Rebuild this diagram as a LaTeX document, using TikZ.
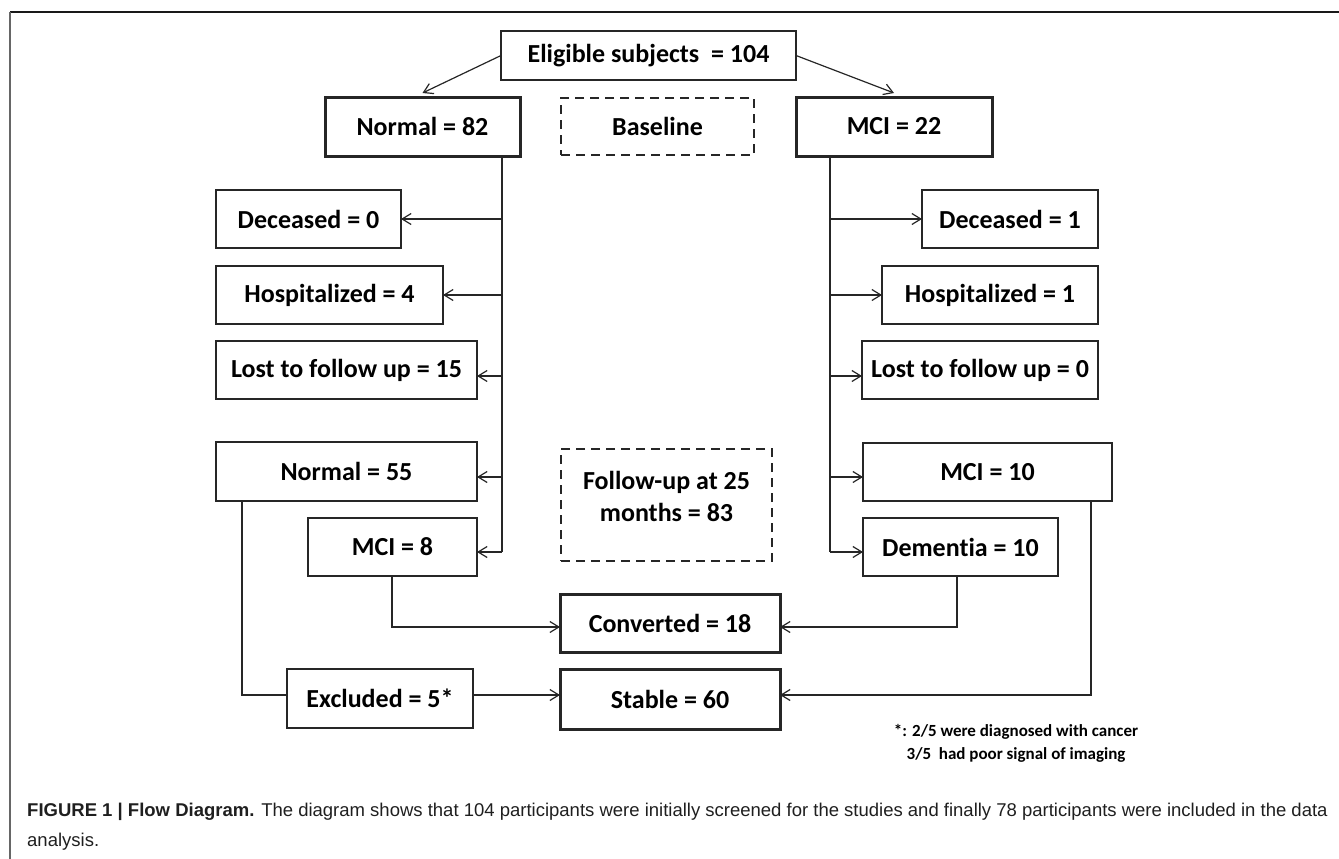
\documentclass[tikz,border=0pt]{standalone}
\usepackage{fontspec}
\setmainfont{Carlito}[Ligatures=NoCommon]
\newfontfamily\capfont{Liberation Sans}
\usetikzlibrary{arrows.meta}
\begin{document}
\begin{tikzpicture}[x=1pt,y=-1pt,
  box/.style={draw=black!85, line width=1.2pt, inner sep=0pt, outer sep=0pt,
    font=\fontsize{26}{32}\selectfont\bfseries, align=center},
  thickbox/.style={box, line width=3pt},
  dashbox/.style={box, dash pattern=on 9pt off 6pt},
  conn/.style={draw=black!85, line width=1.2pt},
  arr/.style={conn, -{Straight Barb[length=9pt,width=11pt,line width=1.2pt]}}]
\useasboundingbox (0,0) rectangle (1339,859);
% frame
\draw[line width=1.4pt, black!90] (10,12) -- (1339,12);
\draw[line width=1.4pt, black!60] (10,12) -- (10,859);
% top
\node[box, minimum width=295pt, minimum height=49pt] (elig) at (648.5,55.5) {Eligible subjects\ \ = 104};
\node[thickbox, minimum width=195pt, minimum height=59pt] (norm82) at (422.5,126.5) {Normal = 82};
\node[dashbox, minimum width=193pt, minimum height=57pt] (base) at (657.5,126.5) {Baseline};
\node[thickbox, minimum width=196pt, minimum height=59pt] (mci22) at (894,126.5) {MCI = 22};
% left column
\node[box, minimum width=185pt, minimum height=58pt] (dec0) at (308.5,219) {Deceased = 0};
\node[box, minimum width=227pt, minimum height=58pt] (hosp4) at (329.5,295) {Hospitalized = 4};
\node[box, minimum width=261pt, minimum height=58pt] (lost15) at (346.5,370) {Lost to follow up = 15};
\node[box, minimum width=261pt, minimum height=59pt] (norm55) at (346.5,471.5) {Normal = 55};
\node[box, minimum width=169pt, minimum height=58pt] (mci8) at (392.5,547) {MCI = 8};
% right column
\node[box, minimum width=176pt, minimum height=58pt] (dec1) at (1010,219) {Deceased = 1};
\node[box, minimum width=216pt, minimum height=58pt] (hosp1) at (990,295) {Hospitalized = 1};
\node[box, minimum width=236pt, minimum height=58pt] (lost0) at (980,370) {Lost to follow up = 0};
\node[box, minimum width=249pt, minimum height=58pt] (mci10) at (987.5,472) {MCI = 10};
\node[box, minimum width=195pt, minimum height=58pt] (dem10) at (960.5,547) {Dementia = 10};
% middle
\node[dashbox, minimum width=211pt, minimum height=112pt, align=none] (follow) at (666.5,505)
  {\raisebox{6pt}[\height][\depth]{\begin{tabular}{@{}c@{}}Follow-up at 25\\months = 83\end{tabular}}};
\node[thickbox, minimum width=220pt, minimum height=58pt] (conv) at (670,623) {Converted = 18};
\node[box, minimum width=186pt, minimum height=59pt] (excl) at (380,698.5) {Excluded = 5*};
\node[thickbox, minimum width=220pt, minimum height=60pt] (stable) at (670,699) {Stable = 60};
% footnote
\node[font=\fontsize{17}{23}\selectfont\bfseries, align=center] (note) at (1016,743)
  {*: 2/5 were diagnosed with cancer\\3/5\ \ had poor signal of imaging};
% caption
\node[anchor=west, font=\capfont\fontsize{18.5}{30}\selectfont, text=black!88, align=left, inner sep=0pt] (cap) at (27,827)
  {\textbf{FIGURE 1 | Flow Diagram.} The diagram shows that 104 participants were initially screened for the studies and finally 78 participants were included in the data\\analysis.};
% coordinates
\coordinate (lt) at (502,552);
\coordinate (rt) at (830,552);
\coordinate (n55c) at (242,695);
\coordinate (m10c) at (1091,695);
\coordinate (m8c) at (392,627);
\coordinate (d10c) at (957,627);
% connectors top
\draw[arr] (elig.west) -- ([yshift=4pt]norm82.north);
\draw[arr] (elig.east) -- ([yshift=4pt]mci22.north);
% left trunk
\draw[conn] (norm82.south -| lt) -- (lt);
\draw[arr] (lt |- dec0) -- (dec0.east);
\draw[arr] (lt |- hosp4) -- (hosp4.east);
\draw[arr] ([yshift=-6pt]lt |- lost15) -- ([yshift=-6pt]lost15.east);
\draw[arr] ([yshift=-5.5pt]lt |- norm55) -- ([yshift=-5.5pt]norm55.east);
\draw[arr] (lt) -- (mci8.east |- lt);
% right trunk
\draw[conn] (mci22.south -| rt) -- (rt);
\draw[arr] (rt |- dec1) -- (dec1.west);
\draw[arr] (rt |- hosp1) -- (hosp1.west);
\draw[arr] ([yshift=-6pt]rt |- lost0) -- ([yshift=-6pt]lost0.west);
\draw[arr] ([yshift=-5pt]rt |- mci10) -- ([yshift=-5pt]mci10.west);
\draw[arr] (rt) -- (dem10.west |- rt);
% bottom
\draw[arr] (mci8.south -| m8c) -- (m8c) -- (conv.west |- m8c);
\draw[arr] (dem10.south -| d10c) -- (d10c) -- (conv.east |- d10c);
\draw[conn] (norm55.south -| n55c) -- (n55c) -- (excl.west |- n55c);
\draw[arr] (excl.east |- n55c) -- (stable.west |- n55c);
\draw[arr] (mci10.south -| m10c) -- (m10c) -- (stable.east |- m10c);
\end{tikzpicture}
\end{document}
